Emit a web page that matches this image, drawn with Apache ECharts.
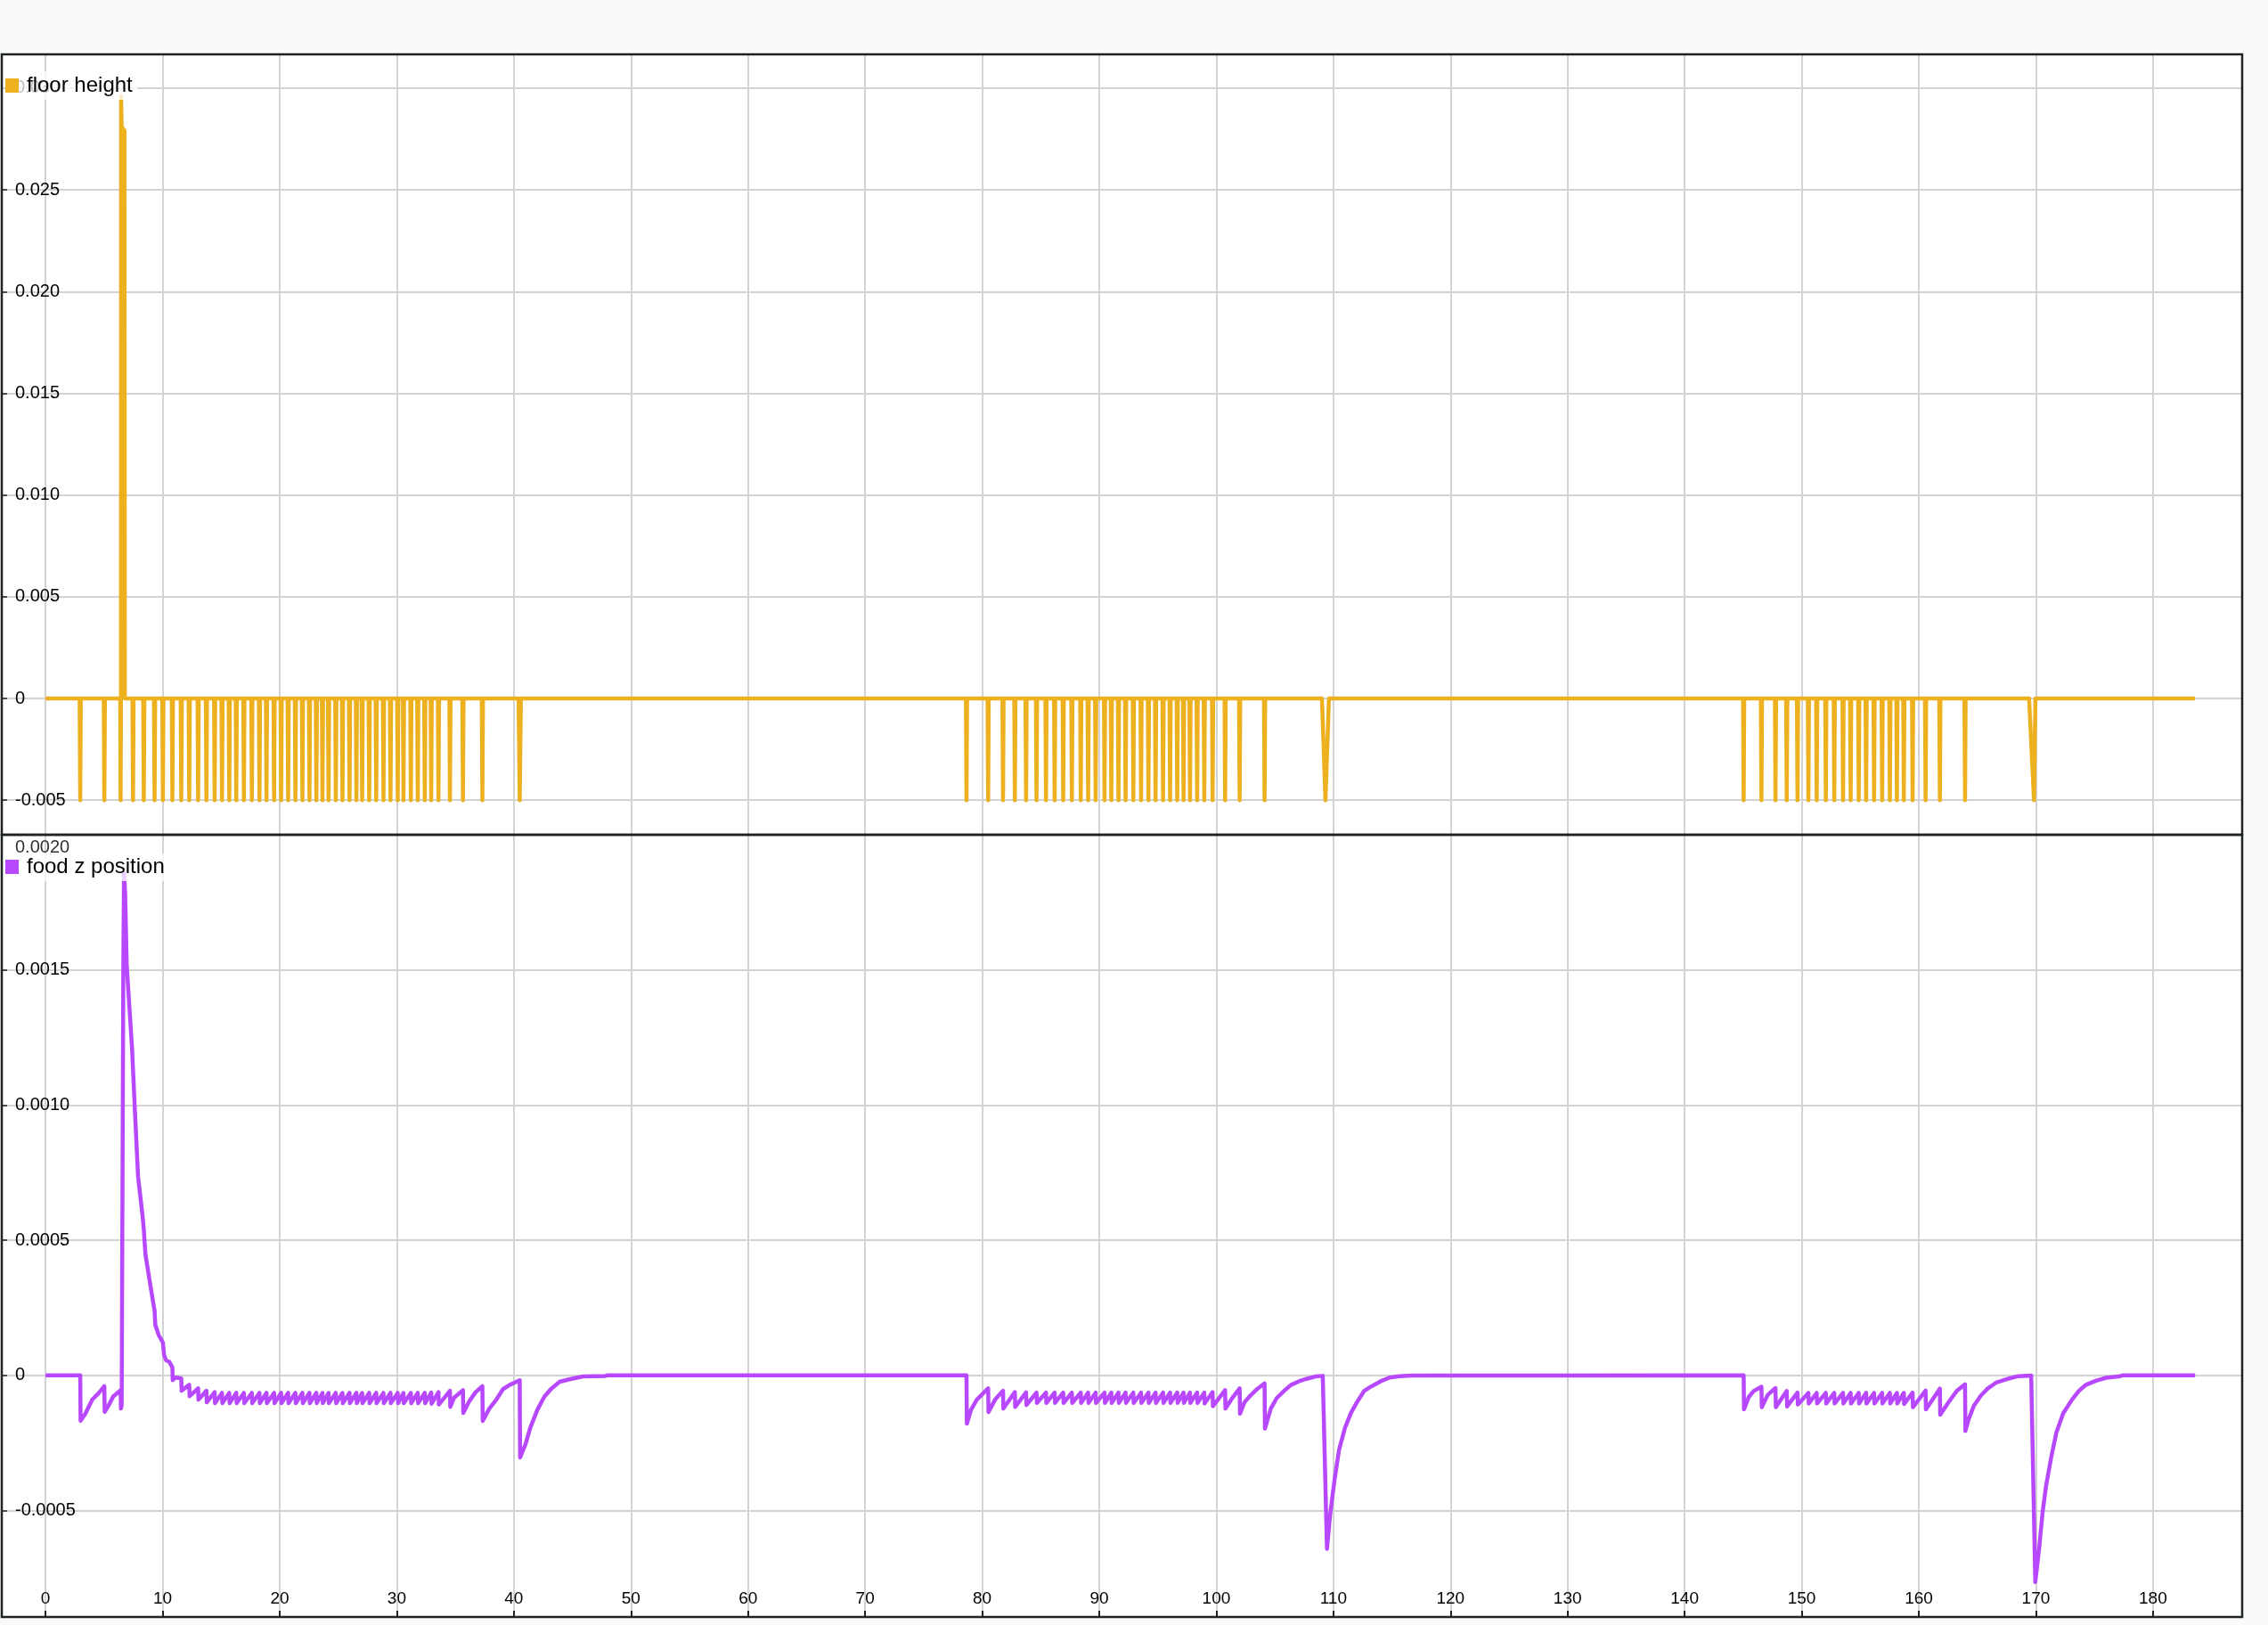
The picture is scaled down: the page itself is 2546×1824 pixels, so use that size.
<!DOCTYPE html>
<html>
<head>
<meta charset="utf-8">
<script src="https://cdn.jsdelivr.net/npm/echarts@6/dist/echarts.min.js"></script>
<style>
html,body{margin:0;padding:0;background:#fafafa;}
#chart{width:2546px;height:1824px;}
</style>
</head>
<body>
<div id="chart"></div>
<script>
// ---------------- data ----------------
const seriesNames = ['floor height', 'food z position'];

// time of every downward floor spike (floor drops to floorSpikeDepth)
const floorSpikeTimes = [
  // group 1
  2.96, 5.02, 6.41, 7.47, 8.39, 9.31, 10.02, 10.83, 11.59, 12.27, 13.03, 13.74, 14.44,
  15.07, 15.69, 16.29, 16.94, 17.62, 18.27, 18.87, 19.52, 20.12, 20.72, 21.34, 21.94, 22.54,
  23.13, 23.65, 24.17, 24.79, 25.36, 25.96, 26.55, 27.04, 27.64, 28.24, 28.86, 29.46, 30.08,
  30.57, 31.20, 31.79, 32.39, 32.94, 33.56,
  34.54, 35.65, 37.31, 40.50,
  // group 2
  78.66, 80.51, 81.78, 82.79, 83.75,
  84.64, 85.45, 86.19, 86.92, 87.66, 88.42, 89.05, 89.69, 90.45, 91.03, 91.64, 92.25, 92.91,
  93.57, 94.20, 94.81, 95.45, 96.05, 96.66, 97.20, 97.75, 98.36, 98.97,
  99.68, 100.75, 101.99, 104.12, 109.32,
  // group 3
  145.04, 146.56, 147.76, 148.72, 149.64,
  150.57, 151.28, 152.06, 152.78, 153.53, 154.18, 154.87, 155.50, 156.18, 156.87, 157.53, 158.13, 158.72,
  159.47, 160.58, 161.80, 163.95, 169.84
];
const floorSpikeDepth = -0.005;
// spikes that are wider than a single sample: [left half width, right half width]
const floorWideSpikes = { '6.41': [0.03, 0.03], '40.5': [0.1, 0.1], '109.32': [0.3, 0.3], '169.84': [0.42, 0.12] };
// the single upward floor pulse [t, value]
const floorUpPulse = [[6.45, 0.0296], [6.50, 0.0281], [6.74, 0.0279], [6.77, 0]];
const tStart = 0;
const tEnd = 183.6;

// food z (units of 1e-4): value just before / just after the drop at each floor spike (null = no tooth)
const foodDropTop = [
  0, -0.40, -0.55, null, null, null, null, 0.30, -0.11, -0.35, -0.48, -0.57, -0.62,
  -0.65, -0.65, -0.65, -0.65, -0.65, -0.65, -0.65, -0.65, -0.65, -0.65, -0.65, -0.65, -0.65,
  -0.65, -0.65, -0.65, -0.65, -0.65, -0.65, -0.65, -0.65, -0.65, -0.65, -0.65, -0.65, -0.65,
  -0.65, -0.65, -0.65, -0.65, -0.64, -0.62,
  -0.57, -0.55, -0.40, -0.18,
  0, -0.48, -0.57, -0.62, -0.63,
  -0.64, -0.64, -0.64, -0.64, -0.64, -0.64, -0.64, -0.64, -0.64, -0.64, -0.64, -0.64, -0.64,
  -0.64, -0.64, -0.64, -0.64, -0.64, -0.64, -0.64, -0.64, -0.64, -0.64,
  -0.62, -0.55, -0.48, -0.30, null,
  0, -0.42, -0.47, -0.58, -0.64,
  -0.65, -0.65, -0.65, -0.65, -0.65, -0.65, -0.65, -0.65, -0.65, -0.65, -0.65, -0.65, -0.65,
  -0.64, -0.56, -0.49, -0.33, null
];
const foodDropBottom = [
  -1.68, -1.35, -1.23, null, null, null, null, -0.18, -0.57, -0.77, -0.90, -1.00, -1.03,
  -1.03, -1.03, -1.03, -1.03, -1.03, -1.03, -1.03, -1.03, -1.03, -1.03, -1.03, -1.03, -1.03,
  -1.03, -1.03, -1.03, -1.03, -1.03, -1.03, -1.03, -1.03, -1.03, -1.03, -1.03, -1.03, -1.03,
  -1.03, -1.03, -1.03, -1.03, -1.05, -1.08,
  -1.17, -1.39, -1.69, -3.04,
  -1.79, -1.36, -1.23, -1.17, -1.10,
  -1.02, -1.02, -1.02, -1.02, -1.02, -1.02, -1.02, -1.02, -1.02, -1.02, -1.02, -1.02, -1.02,
  -1.02, -1.02, -1.02, -1.02, -1.02, -1.02, -1.02, -1.02, -1.02, -1.04,
  -1.14, -1.23, -1.42, -1.97, null,
  -1.26, -1.18, -1.18, -1.15, -1.08,
  -1.04, -1.04, -1.04, -1.04, -1.04, -1.04, -1.04, -1.04, -1.04, -1.04, -1.04, -1.04, -1.06,
  -1.18, -1.26, -1.46, -2.06, null
];
// further food z points [t, value 1e-4]: recovery curves, the big peak, deep dips
const foodCurvePoints = [
  [3.37, -1.44], [4.0, -0.89], [4.51, -0.67], [5.4, -1.10], [5.78, -0.78],
  [6.50, -1.10], [6.64, 15.0], [6.70, 18.6], [6.80, 17.8], [6.93, 15.2], [7.39, 12.06], [7.64, 9.71],
  [7.90, 7.36], [8.28, 5.92], [8.39, 5.40], [8.53, 4.48], [8.91, 3.44], [9.21, 2.65], [9.31, 2.40],
  [9.37, 1.87], [9.67, 1.48], [10.02, 1.22], [10.12, 0.75], [10.30, 0.56], [10.56, 0.50],
  [11.1, -0.08], [11.4, -0.10],
  [34.9, -0.82], [36.2, -0.95], [36.72, -0.63],
  [37.9, -1.23], [38.5, -0.90], [39.07, -0.51], [39.66, -0.35],
  [41.0, -2.54], [41.4, -1.94], [42.0, -1.28], [42.6, -0.79], [43.16, -0.51], [43.9, -0.24],
  [44.9, -0.13], [45.9, -0.04], [47.8, -0.02], [48.0, 0],
  [79.04, -1.28], [79.54, -0.90], [80.05, -0.68], [81.1, -0.90],
  [101.3, -0.88], [102.4, -1.0], [102.9, -0.75], [103.5, -0.50],
  [104.65, -1.23], [105.16, -0.84], [105.8, -0.57], [106.4, -0.35], [107.06, -0.22], [107.7, -0.13],
  [108.45, -0.044], [109.09, -0.02], [109.22, -0.02], [109.45, -6.42], [109.72, -5.16], [110.1, -3.85],
  [110.48, -2.76], [110.99, -1.94], [111.5, -1.39], [112.0, -1.0], [112.64, -0.57], [113.27, -0.40],
  [114.03, -0.22], [114.8, -0.08], [115.6, -0.03], [116.7, -0.01], [116.8, 0],
  [145.48, -0.80], [145.9, -0.58], [147.1, -0.72],
  [162.5, -1.02], [163.24, -0.58],
  [164.26, -1.62], [164.7, -1.13], [165.3, -0.75], [165.88, -0.49], [166.6, -0.27], [167.5, -0.14],
  [168.5, -0.03], [169.6, -0.01], [169.95, -7.65], [170.28, -6.39], [170.57, -5.08], [170.87, -4.09],
  [171.3, -3.05], [171.75, -2.12], [172.34, -1.40], [173.07, -0.91], [173.66, -0.58], [174.24, -0.36],
  [175.12, -0.20], [176.0, -0.09], [177.2, -0.03], [177.4, 0]
];
const foodScale = 1e-4;

// ---------------- build series points ----------------
const byT = (a, b) => a[0] - b[0];
const floorData = [[tStart, 0], [tEnd, 0]];
floorSpikeTimes.forEach(t => {
  const w = floorWideSpikes[String(t)] || [0.05, 0.05];
  floorData.push([t - w[0], 0], [t, floorSpikeDepth], [t + w[1], 0]);
});
floorUpPulse.forEach(p => floorData.push(p));
floorData.sort(byT);

const foodRaw = [[tStart, 0], [tEnd, 0]];
floorSpikeTimes.forEach((t, i) => {
  if (foodDropTop[i] === null || foodDropTop[i] === undefined) return;
  foodRaw.push([t, foodDropTop[i]], [t + 0.03, foodDropBottom[i]]);
});
foodCurvePoints.forEach(p => foodRaw.push(p));
foodRaw.sort(byT);
const foodData = foodRaw.map(p => [p[0], p[1] * foodScale]);

// ---------------- chart ----------------
const FONT = 'Liberation Sans, Arial, Helvetica, sans-serif';
const colors = ['#edb120', '#b848fd'];
const gridLine = { show: true, lineStyle: { color: '#d3d3d3', width: 2 } };
const PLOT_L = 2, PLOT_W = 2515, TOP1 = 61, H1 = 876, TOP2 = 937, H2 = 878;
const LINE_W = 4.5;

function xAxisFor(idx, showLabels) {
  return {
    gridIndex: idx, type: 'value', min: -3.74, max: 187.62,
    minInterval: 10, maxInterval: 10, splitNumber: 19,
    axisLine: { show: false, onZero: false },
    axisTick: showLabels ? { show: true, inside: true, length: 7, lineStyle: { color: '#222', width: 2 } } : { show: false },
    axisLabel: showLabels ? {
      show: true, inside: true, margin: 11, fontSize: 19, color: '#000', fontFamily: FONT,
      showMinLabel: false, showMaxLabel: false
    } : { show: false },
    splitLine: gridLine
  };
}

const chart = echarts.init(document.getElementById('chart'), null, { renderer: 'canvas' });
chart.setOption({
  animation: false,
  backgroundColor: '#fafafa',
  textStyle: { fontFamily: FONT },
  grid: [
    { left: PLOT_L, top: TOP1, width: PLOT_W, height: H1, show: true, backgroundColor: '#ffffff', borderWidth: 0, containLabel: false, outerBoundsMode: 'none' },
    { left: PLOT_L, top: TOP2, width: PLOT_W, height: H2, show: true, backgroundColor: '#ffffff', borderWidth: 0, containLabel: false, outerBoundsMode: 'none' }
  ],
  graphic: [
    { type: 'rect', silent: true, z: 100, shape: { x: PLOT_L, y: TOP1, width: PLOT_W, height: H1 }, style: { fill: null, stroke: '#1d2222', lineWidth: 2.5 } },
    { type: 'rect', silent: true, z: 100, shape: { x: PLOT_L, y: TOP2, width: PLOT_W, height: H2 }, style: { fill: null, stroke: '#1d2222', lineWidth: 2.5 } }
  ],
  legend: [
    {
      data: [seriesNames[0]], left: 2, top: 80, orient: 'horizontal',
      icon: 'rect', itemWidth: 15, itemHeight: 16, padding: [4, 6, 4, 4],
      backgroundColor: 'rgba(255,255,255,0.75)', selectedMode: false,
      textStyle: { fontSize: 24, color: '#000', fontFamily: FONT, padding: [0, 0, 0, 4] }
    },
    {
      data: [seriesNames[1]], left: 2, top: 958, orient: 'horizontal',
      icon: 'rect', itemWidth: 15, itemHeight: 16, padding: [3, 6, 4, 4],
      backgroundColor: 'rgba(255,255,255,0.75)', selectedMode: false,
      textStyle: { fontSize: 24, color: '#000', fontFamily: FONT, padding: [0, 0, 0, 4] }
    }
  ],
  xAxis: [xAxisFor(0, false), xAxisFor(1, true)],
  yAxis: [
    {
      gridIndex: 0, type: 'value', min: -0.0067, max: 0.03166,
      minInterval: 0.005, maxInterval: 0.005, splitNumber: 8,
      axisLine: { show: false, onZero: false },
      axisTick: { show: true, inside: true, length: 6, lineStyle: { color: '#222', width: 1.5 } },
      axisLabel: {
        inside: true, margin: 15, fontSize: 20, color: '#000', fontFamily: FONT,
        showMinLabel: false, showMaxLabel: false,
        formatter: v => Math.abs(v) < 1e-12 ? '0' : v.toFixed(3)
      },
      splitLine: gridLine
    },
    {
      gridIndex: 1, type: 'value', min: -0.000894, max: 0.002,
      minInterval: 0.0005, maxInterval: 0.0005, splitNumber: 6,
      axisLine: { show: false, onZero: false },
      axisTick: { show: true, inside: true, length: 6, lineStyle: { color: '#222', width: 1.5 } },
      axisLabel: {
        inside: true, margin: 15, fontSize: 20, color: '#000', fontFamily: FONT,
        showMinLabel: false, showMaxLabel: true,
        formatter: v => {
          if (Math.abs(v) < 1e-12) return '0';
          if (v > 0.00199) return '{top|' + v.toFixed(4) + '}';
          return v.toFixed(4);
        },
        rich: { top: { fontSize: 20, color: '#333', fontFamily: FONT, padding: [28, 0, 0, 0] } }
      },
      splitLine: gridLine
    }
  ],
  series: [
    {
      name: seriesNames[0], type: 'line', xAxisIndex: 0, yAxisIndex: 0,
      data: floorData, showSymbol: false, symbol: 'none', smooth: false,
      color: colors[0], itemStyle: { color: colors[0] },
      lineStyle: { color: colors[0], width: LINE_W, join: 'round' }, z: 3
    },
    {
      name: seriesNames[1], type: 'line', xAxisIndex: 1, yAxisIndex: 1,
      data: foodData, showSymbol: false, symbol: 'none', smooth: false,
      color: colors[1], itemStyle: { color: colors[1] },
      lineStyle: { color: colors[1], width: LINE_W, join: 'round' }, z: 3
    }
  ]
});
</script>
</body>
</html>
